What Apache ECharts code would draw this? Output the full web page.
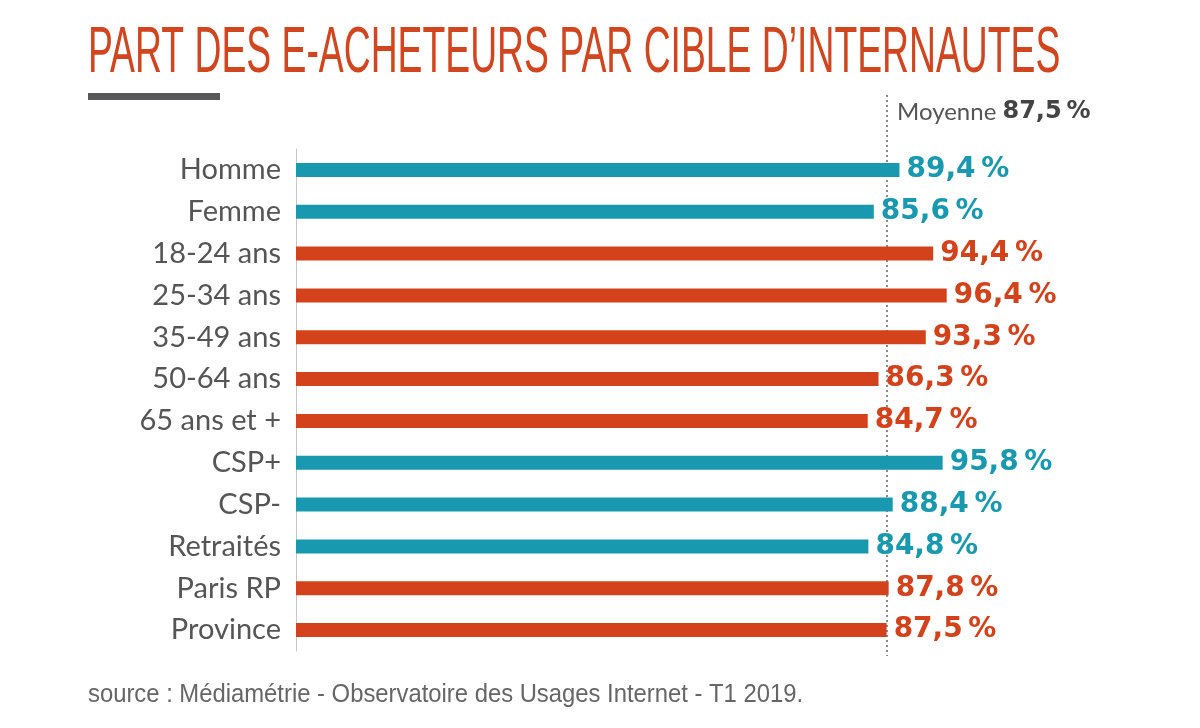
<!DOCTYPE html>
<html><head><meta charset="utf-8">
<script src="https://cdn.jsdelivr.net/npm/echarts@6/dist/echarts.min.js"></script>
<style>html,body{margin:0;padding:0;background:#fff}#c{width:1200px;height:728px}</style>
</head><body><div id="c"></div>
<script>
const categories = ['Homme','Femme','18-24 ans','25-34 ans','35-49 ans','50-64 ans','65 ans et +','CSP+','CSP-','Retraités','Paris RP','Province'];
const values = [89.4,85.6,94.4,96.4,93.3,86.3,84.7,95.8,88.4,84.8,87.8,87.5];
const groups = ['sexe','sexe','age','age','age','age','age','csp','csp','csp','region','region'];
const meanValue = 87.5;
const titleText = 'PART DES E-ACHETEURS PAR CIBLE D’INTERNAUTES';
const sourceText = 'source : Médiamétrie - Observatoire des Usages Internet - T1 2019.';

const TEAL = '#1899b0', RED = '#d4421b';
const groupColor = {sexe: TEAL, age: RED, csp: TEAL, region: RED};
const fmt = v => v.toFixed(1).replace('.', ',') + '\u2009%';

const chart = echarts.init(document.getElementById('c'), null, {renderer: 'canvas'});
chart.setOption({
  animation: false,
  backgroundColor: '#fff',
  grid: {left: 296, width: 675, top: 149, height: 502},
  xAxis: {type: 'value', min: 0, max: 100, show: false},
  yAxis: {
    type: 'category', data: categories, inverse: true,
    axisLine: {show: true, lineStyle: {color: '#c8c8c8', width: 1}},
    axisTick: {show: false},
    axisLabel: {color: '#555', fontFamily: 'Lato', fontSize: 29, margin: 15}
  },
  series: [{
    type: 'bar', barWidth: 14,
    data: values.map((v, i) => ({
      value: v,
      itemStyle: {color: groupColor[groups[i]]},
      label: {color: groupColor[groups[i]]}
    })),
    label: {
      show: true, position: 'right', distance: 7,
      fontFamily: 'DejaVu Sans', fontWeight: 'bold', fontSize: 28,
      formatter: p => fmt(p.value)
    },
    markLine: {
      silent: true, symbol: 'none', z: 1,
      lineStyle: {type: [2, 3], color: '#666', width: 1.5},
      label: {show: false},
      data: [[{xAxis: meanValue, y: 95}, {xAxis: meanValue, y: 656}]]
    }
  }],
  graphic: [
    {type: 'text', x: 88, y: 22, scaleX: 0.583,
     style: {text: titleText, fill: '#d2461f', font: '64px "Liberation Sans"'}},
    {type: 'rect', shape: {x: 88, y: 93, width: 132, height: 7}, style: {fill: '#58585a'}},
    {type: 'text', x: 897, y: 100,
     style: {
       text: '{a|Moyenne }{b|' + fmt(meanValue) + '}',
       rich: {
         a: {fontFamily: 'Lato', fontSize: 24, fill: '#555'},
         b: {fontFamily: 'DejaVu Sans', fontWeight: 'bold', fontSize: 24, fill: '#444'}
       }
     }},
    {type: 'text', x: 88, y: 683, scaleX: 0.953,
     style: {text: sourceText, fill: '#666', font: '25px "Liberation Sans"'}}
  ]
});
</script></body></html>
